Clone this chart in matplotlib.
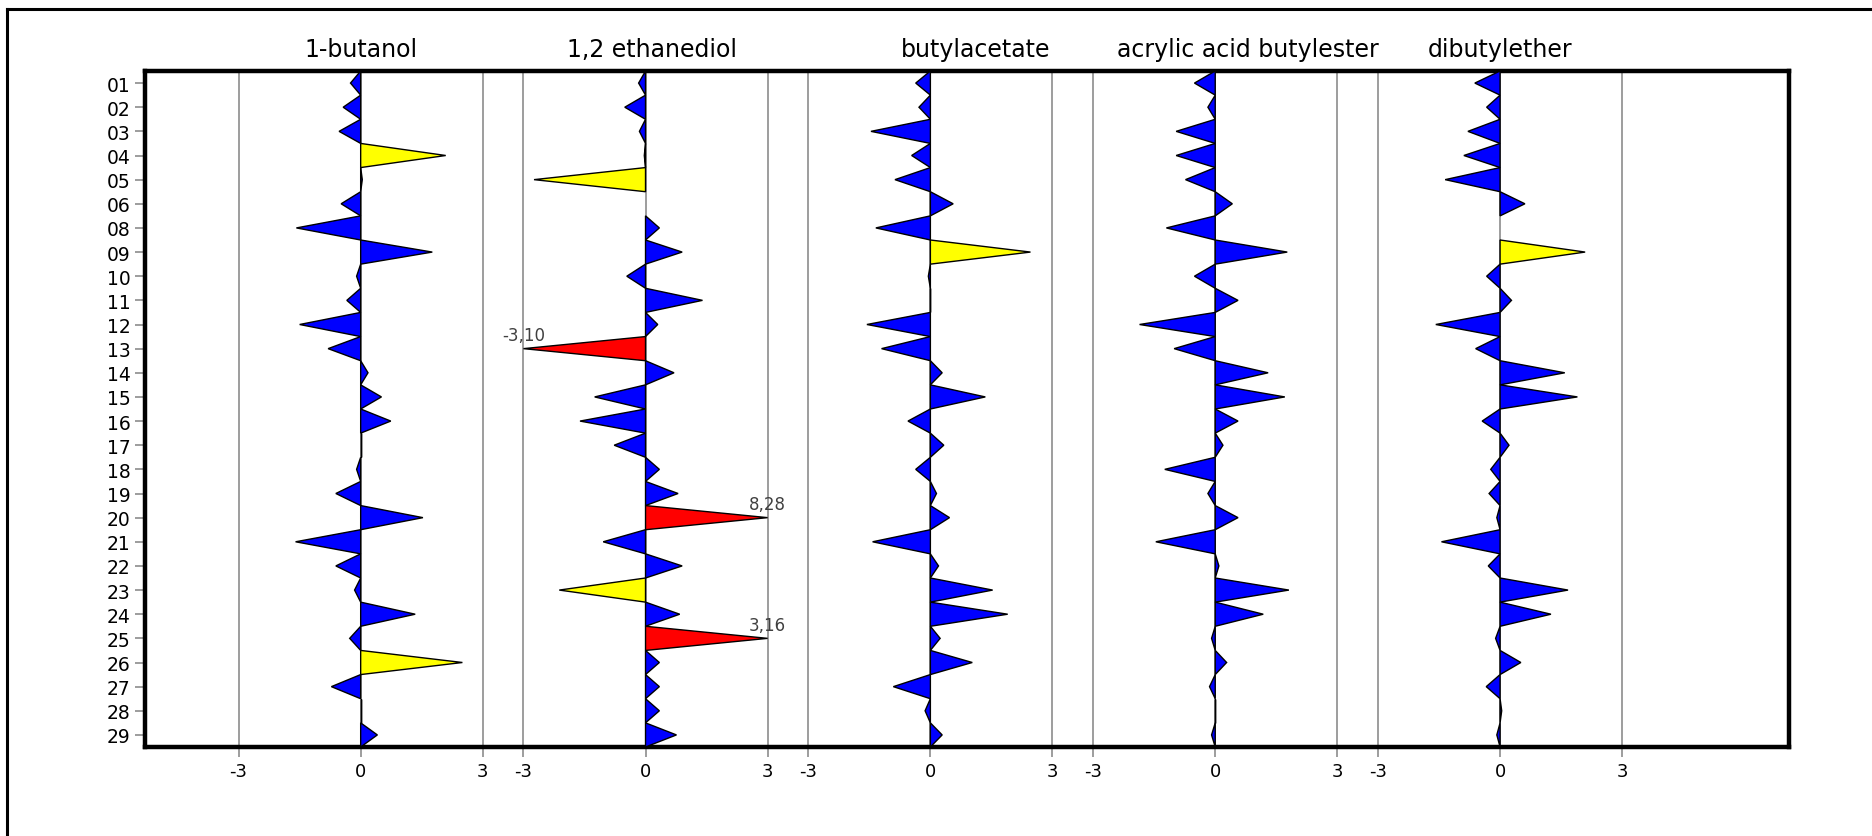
import numpy as np
import matplotlib
matplotlib.use('Agg')
import matplotlib.pyplot as plt
from matplotlib.patches import Polygon
from matplotlib.lines import Line2D

# sample numbers (07 missing in the source)
rows = ['01', '02', '03', '04', '05', '06', '08', '09', '10', '11', '12', '13', '14', '15',
        '16', '17', '18', '19', '20', '21', '22', '23', '24', '25', '26', '27', '28', '29']

names = ['1-butanol', '1,2 ethanediol', 'butylacetate', 'acrylic acid butylester', 'dibutylether']

butanol = [-0.25, -0.43, -0.53, 2.09, 0.04, -0.48, -1.58, 1.76, -0.10, -0.34, -1.50, -0.80, 0.18, 0.51,
           0.74, 0.0, -0.10, -0.61, 1.53, -1.60, -0.61, -0.15, 1.34, -0.27, 2.50, -0.72, 0.0, 0.41]
ethanediol = [-0.17, -0.51, -0.15, -0.03, -2.74, np.nan, 0.34, 0.90, -0.46, 1.40, 0.30, -3.10, 0.70, -1.25,
              -1.61, -0.77, 0.34, 0.80, 8.28, -1.04, 0.90, -2.12, 0.84, 3.16, 0.34, 0.34, 0.34, 0.76]
butylacetate = [-0.36, -0.28, -1.46, -0.46, -0.87, 0.56, -1.34, 2.46, -0.05, 0.0, -1.56, -1.20, 0.29, 1.35,
                -0.55, 0.33, -0.36, 0.15, 0.47, -1.42, 0.20, 1.53, 1.90, 0.24, 1.03, -0.91, -0.13, 0.29]
acrylic = [-0.51, -0.18, -0.96, -0.96, -0.73, 0.42, -1.20, 1.77, -0.51, 0.56, -1.86, -1.01, 1.30, 1.71,
           0.56, 0.19, -1.24, -0.18, 0.56, -1.46, 0.09, 1.81, 1.18, -0.09, 0.28, -0.14, 0.0, -0.09]
dibutylether = [-0.62, -0.33, -0.79, -0.89, -1.35, 0.61, np.nan, 2.09, -0.33, 0.28, -1.58, -0.60, 1.59, 1.90,
                -0.44, 0.22, -0.23, -0.27, -0.08, -1.44, -0.29, 1.67, 1.25, -0.11, 0.51, -0.34, 0.04, -0.08]

columns = [butanol, ethanediol, butylacetate, acrylic, dibutylether]

limit = 3       # values beyond are clipped and drawn red with their value
warn = 2        # yellow above this
spacing = 7     # distance between panel centres (x units)
title_shift = [0, 0.15, 1.1, 0.8, 0]

fig = plt.figure(figsize=(18.72, 8.37), dpi=100)
W, H = 1872, 837
ax = fig.add_axes([145 / W, 1 - 748 / H, (1789 - 145) / W, (748 - 72) / H])

# outer frame (only top and left visible)
fig.add_artist(Line2D([7 / W, 7 / W], [1 - 10 / H, -0.1], color='black', lw=2.2, transform=fig.transFigure))
fig.add_artist(Line2D([7 / W, 1.1], [1 - 10 / H, 1 - 10 / H], color='black', lw=2.2, transform=fig.transFigure))

n = len(rows)
xticks = []
xlabels = []
for k, (name, vals) in enumerate(zip(names, columns)):
    x0 = k * spacing
    for g in (-limit, 0, limit):
        ax.axvline(x0 + g, color='#8c8c8c', lw=1.2, zorder=1)
        xticks.append(x0 + g)
        xlabels.append(str(g))
    for i, v in enumerate(vals):
        if np.isnan(v):
            continue
        vc = float(np.clip(v, -limit, limit))
        if abs(v) > limit:
            col = '#ff0000'
        elif abs(v) > warn:
            col = '#ffff00'
        else:
            col = '#0000ff'
        tri = Polygon([[x0, i - 0.5], [x0 + vc, i], [x0, i + 0.5]], closed=True,
                      facecolor=col, edgecolor='black', lw=1.0, zorder=3)
        ax.add_patch(tri)
        if abs(v) > limit:
            ax.text(x0 + vc, i - 0.2, '{:.2f}'.format(v).replace('.', ','), ha='center', va='bottom',
                    fontsize=12, color='#404040', zorder=4)
    ax.text(x0 + title_shift[k], 1.0325, name, transform=ax.get_xaxis_transform(), ha='center',
            va='center', fontsize=17)

ax.set_xlim(-5.3, 35.1)
ax.set_ylim(n - 0.5, -0.5)
ax.set_yticks(range(n))
ax.set_yticklabels(rows, fontsize=13.5)
ax.set_xticks(xticks)
ax.set_xticklabels(xlabels, fontsize=13)
ax.tick_params(axis='both', colors='#8c8c8c', labelcolor='black', length=7, width=1.2)
for s in ax.spines.values():
    s.set_linewidth(3.2)
    s.set_color('black')

fig.savefig('out.png', dpi=100)
